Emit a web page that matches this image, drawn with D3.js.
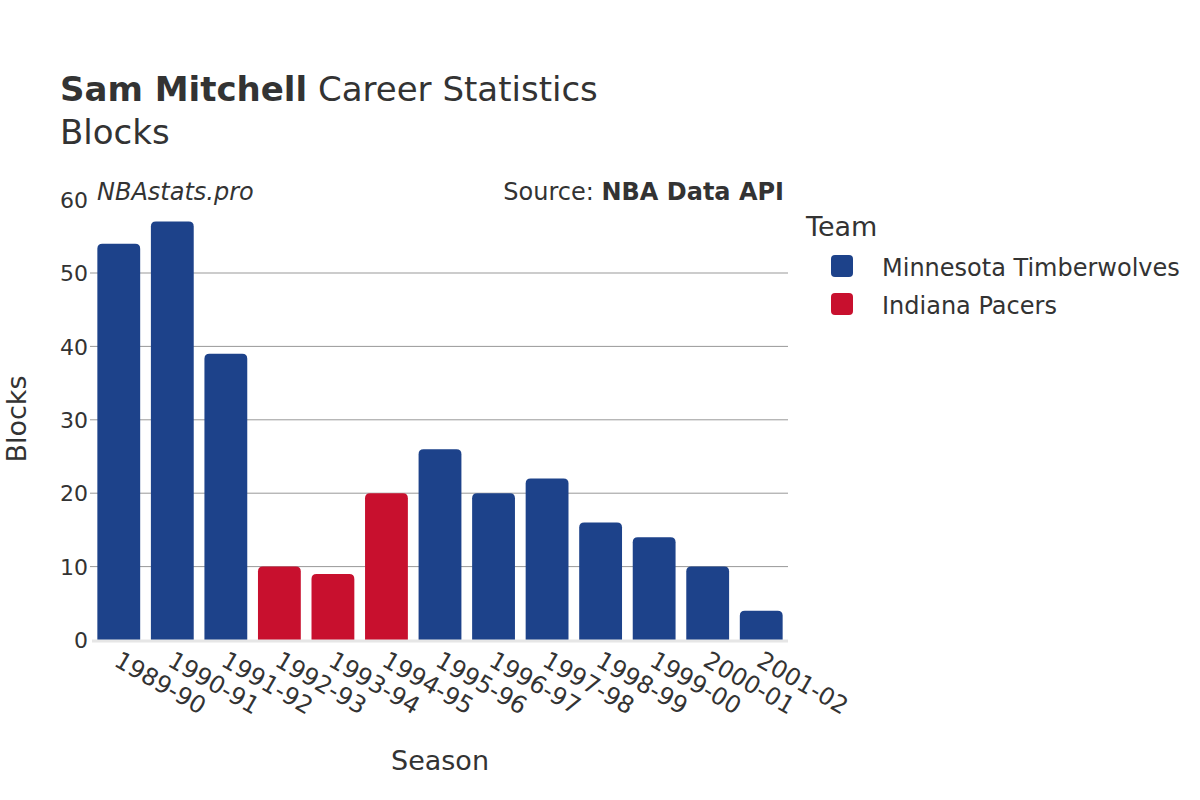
<!DOCTYPE html>
<html><head><meta charset="utf-8">
<script src="https://cdn.jsdelivr.net/npm/d3@7"></script>
<style>body{margin:0;background:#fff;font-family:"DejaVu Sans",sans-serif;}</style>
</head><body><svg id="c" width="1200" height="800"></svg>
<script>
const seasons = ["1989-90","1990-91","1991-92","1992-93","1993-94","1994-95","1995-96","1996-97","1997-98","1998-99","1999-00","2000-01","2001-02"];
const blocks = [54,57,39,10,9,20,26,20,22,16,14,10,4];
const teams = ["MIN","MIN","MIN","IND","IND","IND","MIN","MIN","MIN","MIN","MIN","MIN","MIN"];
const teamNames = ["Minnesota Timberwolves","Indiana Pacers"];
const teamKeys = ["MIN","IND"];
const teamColors = ["#1d428a","#c8102e"];
const yTicks = [0,10,20,30,40,50,60];

const svg = d3.select("#c");
const txt = "#333";
const L = 92, R = 788, T = 199.6, B = 640;
const x = d3.scaleBand().domain(seasons).range([L,R]).paddingInner(0.2).paddingOuter(0.1);
const y = d3.scaleLinear().domain([0,60]).range([B,T]);
const color = d3.scaleOrdinal().domain(teamKeys).range(teamColors);

// grid
svg.append("g").selectAll("line").data(yTicks.filter(d=>d>0 && d<60)).join("line")
  .attr("x1",L-2).attr("x2",R).attr("y1",d=>y(d)).attr("y2",d=>y(d))
  .attr("stroke","#999").attr("stroke-width",1);

// bars with rounded top
function barPath(x0,w,yTop,yBot,r){
  r=Math.min(r,(yBot-yTop),w/2);
  return `M${x0},${yBot}V${yTop+r}Q${x0},${yTop} ${x0+r},${yTop}H${x0+w-r}Q${x0+w},${yTop} ${x0+w},${yTop+r}V${yBot}Z`;
}
svg.append("g").selectAll("path").data(seasons).join("path")
  .attr("d",(s,i)=>barPath(x(s),x.bandwidth(),y(blocks[i]),y(0),5))
  .attr("fill",(s,i)=>color(teams[i]));

// zero line
svg.append("line").attr("x1",L).attr("x2",R).attr("y1",B+1).attr("y2",B+1)
  .attr("stroke","#e6e6e6").attr("stroke-width",3);

// y ticks
const yAxis = d3.axisLeft(y).tickValues(yTicks).tickSize(0).tickFormat(d3.format("d"));
const gy = svg.append("g").attr("transform",`translate(${L-3},0)`).call(yAxis);
gy.select(".domain").remove();
gy.selectAll(".tick line").remove();
gy.selectAll("text").attr("font-size",22).attr("fill",txt).attr("font-family","DejaVu Sans").attr("x",-1).attr("dy","0.35em");

// x ticks
const xAxis = d3.axisBottom(x).tickSize(0);
const gx = svg.append("g").attr("transform",`translate(0,${B})`).call(xAxis);
gx.select(".domain").remove();
gx.selectAll("text").attr("font-size",24).attr("fill",txt).attr("font-family","DejaVu Sans")
  .attr("text-anchor","start").attr("dy",0).attr("y",0)
  .attr("transform","translate(-6,25) rotate(30)");

// titles
const title = svg.append("text").attr("x",60).attr("y",101).attr("font-size",34).attr("fill",txt);
title.append("tspan").attr("font-weight","bold").text("Sam Mitchell");
title.append("tspan").text(" Career Statistics");
svg.append("text").attr("x",60).attr("y",144).attr("font-size",34).attr("fill",txt).text("Blocks");

svg.append("text").attr("x",97).attr("y",200).attr("font-size",24).attr("font-style","italic").attr("fill",txt).text("NBAstats.pro");
const src = svg.append("text").attr("x",784).attr("y",200).attr("text-anchor","end").attr("font-size",24).attr("fill",txt);
src.append("tspan").text("Source: ");
src.append("tspan").attr("font-weight","bold").text("NBA Data API");

// axis titles
svg.append("text").attr("transform","translate(26,419) rotate(-90)").attr("text-anchor","middle")
  .attr("font-size",27).attr("fill",txt).text("Blocks");
svg.append("text").attr("x",440).attr("y",770).attr("text-anchor","middle").attr("font-size",27).attr("fill",txt).text("Season");

// legend
svg.append("text").attr("x",806).attr("y",236).attr("font-size",27).attr("fill",txt).text("Team");
const lg = svg.append("g").selectAll("g").data(teamKeys).join("g")
  .attr("transform",(d,i)=>`translate(831,${255+i*38})`);
lg.append("rect").attr("width",22).attr("height",22).attr("rx",4).attr("fill",d=>color(d));
lg.append("text").attr("x",51).attr("y",13).attr("dy","0.35em").attr("font-size",24).attr("fill",txt)
  .text((d,i)=>teamNames[i]);
</script></body></html>
